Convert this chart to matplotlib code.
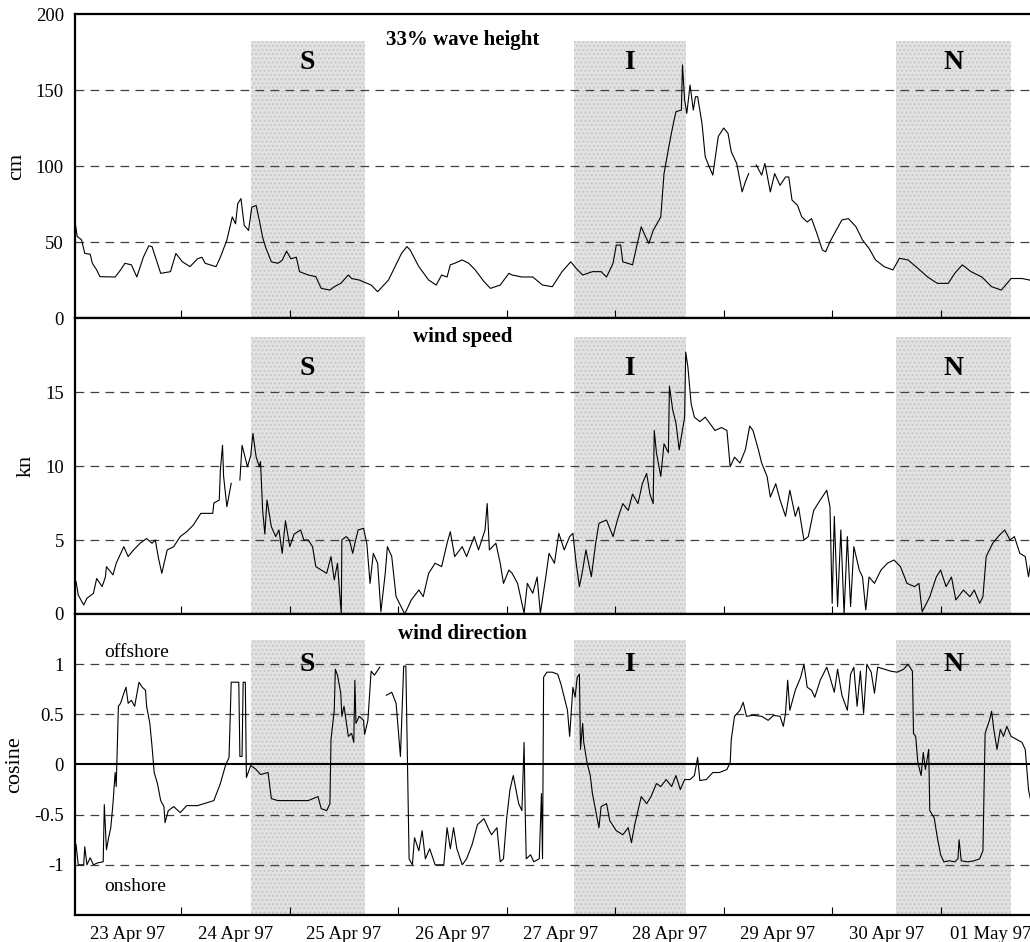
import numpy as np
import matplotlib
matplotlib.use("Agg")
import matplotlib.pyplot as plt

plt.rcParams['font.family'] = ['Liberation Serif', 'DejaVu Serif']
plt.rcParams['axes.unicode_minus'] = False

# time axis: days since 23 Apr 97 00:00
day_labels = ["23 Apr 97", "24 Apr 97", "25 Apr 97", "26 Apr 97", "27 Apr 97",
              "28 Apr 97", "29 Apr 97", "30 Apr 97", "01 May 97"]

# shaded periods (start, end) in days and their letters
periods = [(1.64, 2.69), (4.62, 5.65), (7.59, 8.65)]
period_names = ["S", "I", "N"]

# 33% wave height (cm)
wave_t = [0.02, 0.04, 0.08, 0.11, 0.16, 0.18, 0.22, 0.25, 0.39, 0.44, 0.48, 0.54, 0.59, 0.65,
          0.70, 0.73, 0.81, 0.90, 0.95, 1.01, 1.08, 1.15, 1.19, 1.22, 1.32, 1.36, 1.42, 1.47,
          1.50, 1.52, 1.55, 1.58, 1.62, 1.65, 1.69, 1.72, 1.75, 1.78, 1.83, 1.89, 1.93, 1.97,
          2.01, 2.06, 2.09, 2.17, 2.24, 2.29, 2.37, 2.41, 2.47, 2.54, 2.57, 2.64, 2.75, 2.81,
          2.91, 3.03, 3.08, 3.11, 3.19, 3.28, 3.35, 3.40, 3.45, 3.48, 3.52, 3.59, 3.65, 3.71,
          3.79, 3.85, 3.94, 4.02, 4.05, 4.14, 4.24, 4.33, 4.42, 4.51, 4.59, 4.64, 4.70, 4.79,
          4.87, 4.92, 4.98, 5.01, 5.05, 5.07, 5.16, 5.19, 5.24, 5.28, 5.31, 5.35, 5.42, 5.45,
          5.50, 5.53, 5.56, 5.61, 5.62, 5.64, 5.66, 5.69, 5.72, 5.74, 5.76, 5.80, 5.83, 5.86,
          5.90, 5.95, 6.00, 6.04, 6.07, 6.12, 6.17, 6.20, 6.23, 6.26, 6.30, 6.35, 6.38, 6.43,
          6.47, 6.52, 6.57, 6.60, 6.63, 6.68, 6.72, 6.77, 6.81, 6.86, 6.91, 6.94, 6.98, 7.03,
          7.09, 7.15, 7.22, 7.28, 7.34, 7.40, 7.48, 7.56, 7.62, 7.70, 7.79, 7.88, 7.97, 8.07,
          8.13, 8.20, 8.28, 8.38, 8.47, 8.56, 8.65, 8.75, 8.82, 8.87]
wave_cm = [63.5, 53.7, 51.5, 42.5, 42, 36, 31.6, 27.2, 27, 31.6, 36, 35, 27, 40,
           47.5, 47, 29.4, 30.5, 42.5, 37, 33.8, 39, 40, 36, 33.8, 40, 51.3, 66.5,
           62, 75.2, 78.6, 61, 57.6, 73, 74, 64, 53, 46, 37, 36, 38, 44,
           39, 40, 30.5, 28.3, 27.2, 19.5, 18.4, 20.6, 22.8, 28.3, 26, 25, 21.7, 17.3,
           25, 42.5, 47, 44.7, 33.8, 25, 21.7, 28.3, 27, 35, 36, 38.2, 36, 31.6,
           24, 19.5, 21.7, 29.4, 28.3, 27, 27, 21.7, 20.6, 30.5, 37, 32.7, 28.3, 30.5,
           30.5, 27, 36, 48, 48, 37, 35, 44.7, 60, 53.5, 49.1, 57.6, 66.5, 95,
           114.9, 125.9, 135.8, 136.8, 166.5, 143.4, 134.6, 153.3, 136.8, 145.6, 145.6, 128, 106, 100.7,
           94, 119.4, 125, 121.5, 109.4, 101.7, 83, 89.6, 95, np.nan, 100.7, 94, 101.7, 83,
           95, 87.3, 92.8, 92.8, 77.6, 74.2, 66.5, 63.2, 65.4, 55.5, 44.7, 43.6, 50.2, 56.8,
           64.5, 65.4, 60, 51.3, 45.8, 38.2, 33.8, 31.6, 39.3, 38.2, 32.7, 27, 22.8, 22.8,
           29.4, 35, 30.5, 27, 20.6, 18.4, 26, 26, 25, 21.7]

# wind speed (kn)
speed_t = [0.03, 0.05, 0.10, 0.13, 0.19, 0.22, 0.27, 0.30, 0.31, 0.37, 0.40, 0.47, 0.51, 0.56,
           0.62, 0.68, 0.73, 0.76, 0.79, 0.82, 0.87, 0.93, 0.99, 1.05, 1.11, 1.18, 1.24, 1.29,
           1.30, 1.35, 1.36, 1.38, 1.39, 1.42, 1.46, 1.50, 1.54, 1.56, 1.61, 1.64, 1.66, 1.69,
           1.72, 1.73, 1.75, 1.77, 1.79, 1.83, 1.87, 1.90, 1.93, 1.96, 2.00, 2.04, 2.10, 2.13,
           2.17, 2.21, 2.24, 2.29, 2.34, 2.38, 2.41, 2.44, 2.46, 2.475, 2.48, 2.52, 2.55, 2.58,
           2.60, 2.63, 2.68, 2.71, 2.74, 2.77, 2.81, 2.84, 2.88, 2.90, 2.94, 2.98, 3.06, 3.12,
           3.19, 3.23, 3.28, 3.34, 3.40, 3.45, 3.48, 3.52, 3.59, 3.63, 3.70, 3.74, 3.80, 3.82,
           3.84, 3.90, 3.94, 3.97, 4.02, 4.05, 4.10, 4.16, 4.19, 4.24, 4.28, 4.31, 4.36, 4.39,
           4.44, 4.48, 4.53, 4.58, 4.61, 4.64, 4.67, 4.70, 4.73, 4.78, 4.82, 4.85, 4.92, 4.98,
           5.02, 5.07, 5.12, 5.16, 5.21, 5.25, 5.29, 5.32, 5.35, 5.36, 5.38, 5.42, 5.45, 5.49,
           5.50, 5.53, 5.56, 5.59, 5.61, 5.64, 5.65, 5.67, 5.70, 5.73, 5.78, 5.83, 5.87, 5.92,
           5.98, 6.03, 6.06, 6.10, 6.15, 6.20, 6.24, 6.27, 6.32, 6.35, 6.40, 6.43, 6.48, 6.52,
           6.57, 6.61, 6.66, 6.69, 6.74, 6.78, 6.83, 6.89, 6.95, 6.98, 7.00, 7.02, 7.05, 7.08,
           7.11, 7.14, 7.17, 7.20, 7.25, 7.28, 7.31, 7.34, 7.39, 7.45, 7.51, 7.57, 7.63, 7.69,
           7.76, 7.80, 7.83, 7.90, 7.96, 8.00, 8.05, 8.10, 8.14, 8.21, 8.27, 8.31, 8.36, 8.39,
           8.42, 8.48, 8.53, 8.59, 8.64, 8.68, 8.73, 8.78, 8.81, 8.84, 8.87]
speed_kn = [2.18, 1.28, 0.61, 1.06, 1.4, 2.4, 1.85, 2.5, 3.2, 2.64, 3.43, 4.55, 3.88, 4.33,
            4.78, 5.1, 4.78, 5.0, 3.76, 2.75, 4.33, 4.55, 5.23, 5.56, 6.0, 6.8, 6.8, 6.8,
            7.5, 7.7, 9.73, 11.4, 9.3, 7.25, 8.83, np.nan, 9.05, 11.4, 9.95, 10.7, 12.2, 10.6,
            9.95, 10.3, 7.0, 5.4, 7.7, 5.9, 5.23, 5.68, 4.1, 6.3, 4.55, 5.4, 5.68, 5.0,
            5.0, 4.55, 3.2, 2.97, 2.75, 3.88, 2.3, 3.43, 1.4, 0.0, 5.0, 5.23, 5.0, 4.1,
            4.78, 5.68, 5.79, 4.78, 2.07, 4.1, 3.43, 0.15, 2.75, 4.55, 3.88, 1.17, 0.0, 0.95,
            1.62, 1.17, 2.75, 3.43, 3.2, 4.78, 5.56, 3.88, 4.55, 3.88, 5.23, 4.33, 5.68, 7.46,
            4.33, 4.78, 3.43, 2.07, 2.97, 2.75, 2.07, 0.05, 2.07, 1.4, 2.5, 0.05, 2.5, 4.1,
            3.43, 5.45, 4.33, 5.23, 5.45, 3.43, 1.85, 2.97, 4.33, 2.52, 4.78, 6.13, 6.35, 5.23,
            6.35, 7.46, 7.0, 8.1, 7.46, 8.8, 9.5, 8.1, 7.46, 12.4, 10.9, 9.3, 11.5, 10.9,
            15.4, 13.8, 12.9, 11.1, 12.0, 13.3, 17.7, 16.7, 14.2, 13.3, 13.0, 13.3, 12.9, 12.4,
            12.6, 12.4, 9.95, 10.6, 10.2, 11.1, 12.7, 12.4, 11.1, 10.2, 9.3, 7.9, 8.8, 7.7,
            6.6, 8.36, 6.6, 7.24, 5.0, 5.23, 7.0, 7.7, 8.36, 7.24, 0.72, 6.6, 0.5, 5.68,
            0.0, 5.23, 0.5, 4.55, 2.97, 2.5, 0.27, 2.5, 2.07, 2.97, 3.43, 3.65, 3.2, 2.07,
            1.85, 2.07, 0.15, 1.17, 2.5, 2.97, 1.85, 2.5, 0.95, 1.62, 1.17, 1.62, 0.72, 1.17,
            3.88, 4.78, 5.23, 5.68, 5.0, 5.23, 4.1, 3.88, 2.52, 3.88, 3.76]

# wind direction (cosine)
dir_t = [0.03, 0.05, 0.10, 0.11, 0.13, 0.16, 0.19, 0.23, 0.28, 0.29, 0.31, 0.33, 0.35, 0.37,
         0.39, 0.40, 0.42, 0.44, 0.47, 0.49, 0.51, 0.54, 0.57, 0.61, 0.64, 0.67, 0.68, 0.71,
         0.73, 0.75, 0.78, 0.81, 0.84, 0.85, 0.88, 0.93, 0.99, 1.05, 1.15, 1.24, 1.30, 1.36,
         1.41, 1.44, 1.46, 1.53, 1.54, 1.56, 1.57, 1.59, 1.60, 1.64, 1.69, 1.73, 1.80, 1.83,
         1.89, 1.98, 2.07, 2.17, 2.26, 2.29, 2.34, 2.37, 2.38, 2.41, 2.42, 2.44, 2.47, 2.48,
         2.50, 2.54, 2.57, 2.59, 2.60, 2.61, 2.64, 2.68, 2.69, 2.72, 2.75, 2.78, 2.83, 2.86,
         2.89, 2.94, 2.98, 3.02, 3.05, 3.07, 3.10, 3.13, 3.15, 3.19, 3.22, 3.25, 3.29, 3.34,
         3.42, 3.45, 3.48, 3.51, 3.54, 3.59, 3.63, 3.68, 3.73, 3.79, 3.84, 3.86, 3.91, 3.94,
         3.97, 4.00, 4.03, 4.06, 4.08, 4.11, 4.14, 4.16, 4.17, 4.18, 4.22, 4.25, 4.30, 4.32,
         4.33, 4.34, 4.37, 4.42, 4.47, 4.50, 4.53, 4.56, 4.58, 4.61, 4.63, 4.65, 4.67, 4.68,
         4.70, 4.71, 4.74, 4.77, 4.79, 4.82, 4.85, 4.87, 4.92, 4.95, 5.01, 5.07, 5.12, 5.15,
         5.18, 5.21, 5.24, 5.29, 5.33, 5.38, 5.42, 5.47, 5.52, 5.56, 5.60, 5.64, 5.69, 5.73,
         5.76, 5.78, 5.84, 5.90, 5.96, 6.03, 6.06, 6.07, 6.10, 6.15, 6.18, 6.21, 6.27, 6.35,
         6.41, 6.46, 6.52, 6.55, 6.57, 6.59, 6.61, 6.66, 6.71, 6.74, 6.77, 6.81, 6.84, 6.89,
         6.95, 6.98, 7.02, 7.05, 7.09, 7.14, 7.17, 7.20, 7.23, 7.26, 7.29, 7.32, 7.36, 7.39,
         7.42, 7.48, 7.54, 7.60, 7.66, 7.70, 7.74, 7.75, 7.77, 7.79, 7.82, 7.84, 7.86, 7.89,
         7.90, 7.94, 7.97, 8.00, 8.03, 8.08, 8.13, 8.16, 8.17, 8.19, 8.25, 8.31, 8.36, 8.39,
         8.41, 8.45, 8.47, 8.49, 8.52, 8.55, 8.58, 8.61, 8.65, 8.70, 8.75, 8.78, 8.81, 8.84,
         8.87]
dir_cos = [-0.8, -1.0, -1.0, -0.82, -1.0, -0.93, -1.0, -0.98, -0.97, -0.4, -0.85, -0.73, -0.63, -0.39,
           -0.08, -0.22, 0.58, 0.61, 0.71, 0.77, 0.61, 0.64, 0.58, 0.82, 0.77, 0.74, 0.58, 0.41,
           0.18, -0.08, -0.19, -0.36, -0.42, -0.58, -0.46, -0.42, -0.48, -0.41, -0.41, -0.38, -0.36, -0.19,
           0.0, 0.07, 0.82, 0.82, 0.08, 0.08, 0.82, 0.82, -0.13, -0.01, -0.05, -0.1, -0.08, -0.34,
           -0.36, -0.36, -0.36, -0.36, -0.32, -0.44, -0.46, -0.39, 0.25, 0.54, 0.95, 0.89, 0.71, 0.48,
           0.58, 0.28, 0.31, 0.22, 0.84, 0.41, 0.48, 0.44, 0.3, 0.44, 0.93, 0.89, 0.97, np.nan,
           0.69, 0.72, 0.61, 0.08, 0.98, 0.98, -0.94, -1.0, -0.73, -0.86, -0.66, -0.94, -0.84, -1.0,
           -1.0, -0.63, -0.84, -0.63, -0.84, -1.0, -0.94, -0.8, -0.6, -0.54, -0.66, -0.7, -0.63, -0.97,
           -0.94, -0.53, -0.25, -0.11, -0.22, -0.39, -0.46, 0.22, -0.46, -0.94, -0.9, -0.97, -0.94, -0.29,
           -0.94, 0.87, 0.92, 0.92, 0.9, 0.8, 0.67, 0.54, 0.28, 0.77, 0.67, 0.87, 0.9, 0.15,
           0.41, 0.22, 0.02, -0.11, -0.29, -0.46, -0.63, -0.42, -0.39, -0.56, -0.66, -0.7, -0.63, -0.78,
           -0.6, -0.46, -0.32, -0.39, -0.32, -0.19, -0.22, -0.15, -0.22, -0.11, -0.25, -0.15, -0.15, -0.11,
           0.07, -0.16, -0.15, -0.08, -0.08, -0.05, 0.02, 0.25, 0.48, 0.54, 0.62, 0.48, 0.49, 0.48,
           0.44, 0.49, 0.48, 0.38, 0.51, 0.84, 0.54, 0.74, 0.87, 1.0, 0.77, 0.74, 0.67, 0.84,
           0.97, 0.87, 0.72, 0.95, 0.69, 0.54, 0.9, 0.97, 0.58, 0.93, 0.51, 1.0, 0.92, 0.71,
           0.97, 0.95, 0.93, 0.92, 0.95, 1.0, 0.93, 0.31, 0.28, 0.02, -0.11, 0.12, -0.05, 0.15,
           -0.46, -0.53, -0.73, -0.9, -0.97, -0.96, -0.97, -0.94, -0.75, -0.96, -0.97, -0.96, -0.94, -0.86,
           0.31, 0.44, 0.53, 0.35, 0.15, 0.35, 0.28, 0.38, 0.28, 0.25, 0.22, 0.15, -0.25, -0.41,
           -0.46]

fig = plt.figure(figsize=(10.30, 9.42), dpi=100)
x0, w = 75 / 1030, 960 / 1030
ax1 = fig.add_axes([x0, 0.6624, w, 0.3227])
ax2 = fig.add_axes([x0, 0.3482, w, 0.3142])
ax3 = fig.add_axes([x0, 0.0287, w, 0.3195])

panels = [
    (ax1, wave_t, wave_cm, (0, 200), [0, 50, 100, 150, 200], [50, 100, 150], "cm",
     "33% wave height", 183, 182, 168),
    (ax2, speed_t, speed_kn, (0, 20), [0, 5, 10, 15], [5, 10, 15], "kn",
     "wind speed", 18.7, 18.7, 16.6),
    (ax3, dir_t, dir_cos, (-1.5, 1.5), [-1, -0.5, 0, 0.5, 1], [-1, -0.5, 0.5, 1], "cosine",
     "wind direction", 1.3, 1.24, 1.0),
]

for ax, t, v, ylim, yticks, grid, ylab, title, title_y, shade_top, letter_y in panels:
    ax.set_xlim(0.02, 8.87)
    ax.set_ylim(*ylim)
    for (a, b), name in zip(periods, period_names):
        ax.fill_between([a, b], ylim[0], shade_top, color='#e2e2e2', lw=0, zorder=0)
        ax.fill_between([a, b], ylim[0], shade_top, facecolor='none', edgecolor='#c8c8c8',
                        hatch='....', lw=0, zorder=0)
        ax.text((a + b) / 2, letter_y, name, ha='center', va='center', fontsize=20,
                fontweight='bold', zorder=3)
    for g in grid:
        ax.axhline(g, color='0.25', lw=0.9, ls=(0, (7, 5)), zorder=1)
    ax.plot(t, v, color='black', lw=0.8, zorder=2)
    ax.text(3.59, title_y, title, ha='center', va='center', fontsize=15, fontweight='bold')
    ax.set_yticks(yticks)
    ax.set_yticklabels([f"{y:g}" for y in yticks])
    ax.set_ylabel(ylab, fontsize=16, labelpad=7)
    ax.set_xticks(np.arange(1, 9))
    ax.set_xticklabels([])
    ax.tick_params(axis='x', which='major', direction='in', length=6, width=0.8)
    ax.tick_params(axis='y', length=0, labelsize=13.5, pad=8)
    ax.spines['right'].set_visible(False)
    for s in ['top', 'bottom', 'left']:
        ax.spines[s].set_linewidth(1.6)

ax3.axhline(0, color='black', lw=1.5, zorder=1)
label_pos = [0.5, 1.5, 2.5, 3.5, 4.5, 5.5, 6.5, 7.5, 8.46]
ax3.set_xticks(label_pos, minor=True)
ax3.set_xticklabels(day_labels, minor=True)
ax3.tick_params(axis='x', which='minor', length=0, labelsize=13.5, pad=8)
ax3.text(0.29, 1.12, "offshore", ha='left', va='center', fontsize=14)
ax3.text(0.29, -1.22, "onshore", ha='left', va='center', fontsize=14)

fig.savefig("out.png", dpi=100)
